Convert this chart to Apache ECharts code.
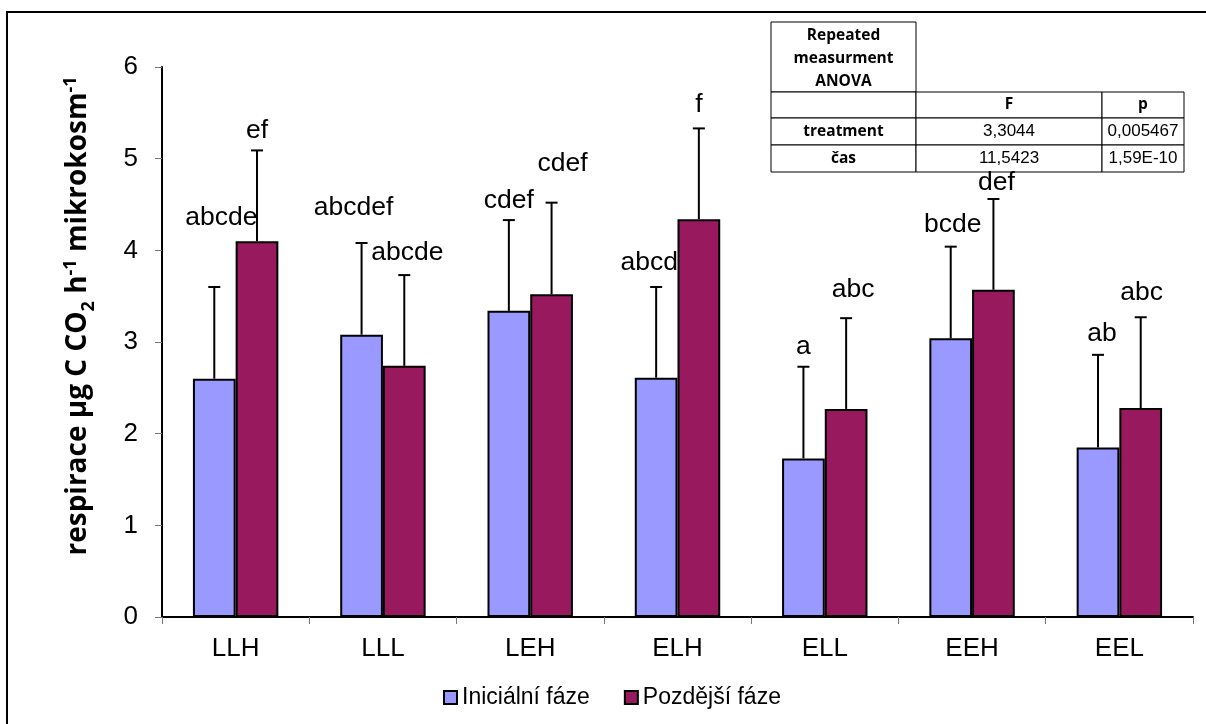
<!DOCTYPE html>
<html>
<head>
<meta charset="utf-8">
<script src="https://cdn.jsdelivr.net/npm/echarts@6/dist/echarts.min.js"></script>
<style>html,body{margin:0;padding:0;background:#fff}#c{width:1206px;height:724px}</style>
</head>
<body>
<div id="c"></div>
<script>
// ---- data ----
const categories = ['LLH', 'LLL', 'LEH', 'ELH', 'ELL', 'EEH', 'EEL'];
const seriesNames = ['Iniciální fáze', 'Pozdější fáze'];
const initialValues = [2.60, 3.08, 3.34, 2.61, 1.73, 3.04, 1.85];
const initialErrors = [1.00, 1.00, 0.99, 0.99, 1.00, 1.00, 1.01];
const laterValues = [4.10, 2.74, 3.52, 4.34, 2.27, 3.57, 2.28];
const laterErrors = [0.99, 0.99, 1.00, 0.99, 0.99, 0.99, 0.99];
const initialLetters = ['abcde', 'abcdef', 'cdef', 'abcd', 'a', 'bcde', 'ab'];
const laterLetters = ['ef', 'abcde', 'cdef', 'f', 'abc', 'def', 'abc'];
const yTicks = [0, 1, 2, 3, 4, 5, 6];
const tableHeader = ['', 'F', 'p'];
const tableRows = [
  ['treatment', '3,3044', '0,005467'],
  ['čas', '11,5423', '1,59E-10']
];
const tableTitle = ['Repeated', 'measurment', 'ANOVA'];

// ---- styling (label nudges, px) ----
const initialLabelShift = [[7, -69], [-8, -35], [0, -19], [-7, -24], [0, -20], [2, -22], [4, -21]];
const laterLabelShift = [[0, -20], [3, -22], [11, -39], [0, -24], [7, -28], [3, -16], [1, -25]];

const colInitial = '#9999ff';
const colLater = '#99195e';
const BAR_FRAC = 0.58;
const FONT = '"Liberation Sans", Arial, sans-serif';
const CAL = '"Open Sans", "Noto Sans", sans-serif';

function errSeries(values, errs, letters, shifts, side) {
  return {
    type: 'custom',
    z: 5,
    silent: true,
    data: values.map((v, i) => [i, v, v + errs[i]]),
    renderItem: function (params, api) {
      const i = api.value(0);
      const base = api.coord([i, api.value(1)]);
      const top = api.coord([i, api.value(2)]);
      const band = api.size([1, 0])[0];
      const bw = band * BAR_FRAC / 2;
      const cx = base[0] + side * bw / 2;
      const sh = shifts[i];
      return {
        type: 'group',
        children: [
          { type: 'line', shape: { x1: cx, y1: base[1], x2: cx, y2: top[1] }, style: { stroke: '#000', lineWidth: 2 } },
          { type: 'line', shape: { x1: cx - 6, y1: top[1], x2: cx + 6, y2: top[1] }, style: { stroke: '#000', lineWidth: 2 } },
          { type: 'text', x: cx + sh[0], y: top[1] + sh[1], style: { text: letters[i], font: '26.5px ' + FONT, fill: '#000', align: 'center', verticalAlign: 'middle' } }
        ]
      };
    }
  };
}

// table graphic
const T = { x0: 771, x1: 916, x2: 1102, x3: 1184, y0: 22, y1: 92, y2: 118, y3: 145, y4: 172 };
const tableEls = [];
function cell(x, y, w, h) {
  tableEls.push({ type: 'rect', shape: { x: x, y: y, width: w, height: h }, style: { fill: '#fff', stroke: '#000', lineWidth: 1 } });
}
function txt(t, x, y, font) {
  tableEls.push({ type: 'text', x: x, y: y, style: { text: t, font: font, fill: '#000', align: 'center', verticalAlign: 'middle' } });
}
tableEls.push({ type: 'rect', shape: { x: T.x1, y: T.y0, width: T.x3 - T.x1, height: T.y1 - T.y0 }, style: { fill: '#fff' } });
cell(T.x0, T.y0, T.x1 - T.x0, T.y1 - T.y0);
const cols = [T.x0, T.x1, T.x2, T.x3];
const rowsY = [T.y1, T.y2, T.y3, T.y4];
for (let r = 0; r < 3; r++) for (let c = 0; c < 3; c++) cell(cols[c], rowsY[r], cols[c + 1] - cols[c], rowsY[r + 1] - rowsY[r]);
tableTitle.forEach((t, k) => txt(t, (T.x0 + T.x1) / 2, 36 + k * 23, 'bold 15.5px ' + CAL));
tableHeader.forEach((t, c) => txt(t, (cols[c] + cols[c + 1]) / 2, (T.y1 + T.y2) / 2, 'bold 15.5px ' + CAL));
tableRows.forEach((row, r) => {
  row.forEach((t, c) => {
    txt(t, (cols[c] + cols[c + 1]) / 2, (rowsY[r + 1] + rowsY[r + 2]) / 2, c === 0 ? 'bold 15.5px ' + CAL : '17px ' + FONT);
  });
});

const chart = echarts.init(document.getElementById('c'), null, { renderer: 'canvas' });
chart.setOption({
  backgroundColor: '#fff',
  animation: false,
  grid: { left: 162, right: 13, top: 67, bottom: 107 },
  legend: {
    data: seriesNames,
    left: 443, top: 686, padding: 0,
    icon: 'rect', itemWidth: 13, itemHeight: 13, itemGap: 34,
    itemStyle: { borderColor: '#000', borderWidth: 2 },
    textStyle: { fontFamily: FONT, fontSize: 23, color: '#000' },
    selectedMode: false
  },
  xAxis: {
    type: 'category',
    data: categories,
    axisLine: { lineStyle: { color: '#000', width: 2 } },
    axisTick: { show: true, length: 7, lineStyle: { color: '#777', width: 1 } },
    axisLabel: { fontFamily: FONT, fontSize: 26, color: '#000', margin: 19, interval: 0 },
    splitLine: { show: false }
  },
  yAxis: {
    type: 'value',
    min: yTicks[0], max: yTicks[yTicks.length - 1], interval: 1,
    axisLine: { show: true, lineStyle: { color: '#000', width: 2 } },
    axisTick: { show: true, length: 7, lineStyle: { color: '#777', width: 1 } },
    axisLabel: { fontFamily: FONT, fontSize: 26, color: '#000', margin: 24 },
    splitLine: { show: false }
  },
  series: [
    { name: seriesNames[0], type: 'bar', data: initialValues, barGap: '0%', barCategoryGap: ((1 - BAR_FRAC) * 100) + '%',
      itemStyle: { color: colInitial, borderColor: '#000', borderWidth: 2 } },
    { name: seriesNames[1], type: 'bar', data: laterValues, barGap: '0%', barCategoryGap: ((1 - BAR_FRAC) * 100) + '%',
      itemStyle: { color: colLater, borderColor: '#000', borderWidth: 2 } },
    errSeries(initialValues, initialErrors, initialLetters, initialLabelShift, -1),
    errSeries(laterValues, laterErrors, laterLetters, laterLabelShift, 1)
  ],
  graphic: [
    { type: 'rect', z: 100, silent: true, shape: { x: 7, y: 12, width: 1250, height: 800 }, style: { fill: 'none', stroke: '#000', lineWidth: 2 } },
    {
      type: 'text', z: 100, x: 77, y: 316, rotation: Math.PI / 2,
      style: {
        text: '{a|respirace µg C CO}{s|2}{a| h}{p|-1}{a| mikrokosm}{p|-1}',
        align: 'center', verticalAlign: 'middle', fill: '#000',
        rich: {
          a: { font: 'bold 28px ' + CAL, fill: '#000', verticalAlign: 'bottom' },
          s: { font: 'bold 18px ' + CAL, fill: '#000', verticalAlign: 'bottom', padding: [0, 0, -6, 0] },
          p: { font: 'bold 18px ' + CAL, fill: '#000', verticalAlign: 'bottom', padding: [0, 0, 12, 0] }
        }
      }
    },
    { type: 'group', z: 100, children: tableEls }
  ]
});
</script>
</body>
</html>
